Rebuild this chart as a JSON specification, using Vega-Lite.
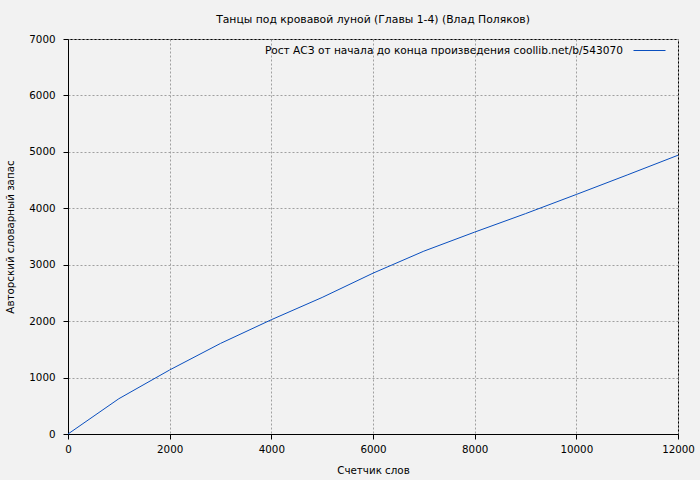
{
  "$schema": "https://vega.github.io/schema/vega-lite/v6.json",
  "width": 610,
  "height": 395,
  "autosize": {"type": "none"},
  "padding": {"left": 68, "top": 39, "right": 22, "bottom": 46},
  "background": "#f2f2f2",
  "title": {
    "text": "Танцы под кровавой луной (Главы 1-4) (Влад Поляков)",
    "font": "DejaVu Sans",
    "fontSize": 10.8,
    "fontWeight": "normal",
    "color": "#000000",
    "anchor": "middle",
    "offset": 9
  },
  "config": {
    "view": {"stroke": "#000000", "strokeWidth": 1},
    "axis": {
      "labelFont": "DejaVu Sans",
      "labelFontSize": 10.3,
      "labelColor": "#000000",
      "titleFont": "DejaVu Sans",
      "titleFontSize": 10.3,
      "titleFontWeight": "normal",
      "titleColor": "#000000",
      "domainColor": "#000000",
      "tickColor": "#000000",
      "tickSize": 5,
      "gridColor": "#a0a0a0",
      "gridDash": [2, 2],
      "gridWidth": 1,
      "gridOpacity": 1
    },
    "legend": {
      "labelFont": "DejaVu Sans",
      "labelFontSize": 10.6,
      "labelColor": "#000000"
    }
  },
  "data": {
    "values": [
      {"words": 0, "vocab": 0, "series": "Рост АСЗ от начала до конца произведения  coollib.net/b/543070"},
      {"words": 1000, "vocab": 625, "series": "Рост АСЗ от начала до конца произведения  coollib.net/b/543070"},
      {"words": 2000, "vocab": 1135, "series": "Рост АСЗ от начала до конца произведения  coollib.net/b/543070"},
      {"words": 3000, "vocab": 1605, "series": "Рост АСЗ от начала до конца произведения  coollib.net/b/543070"},
      {"words": 4000, "vocab": 2025, "series": "Рост АСЗ от начала до конца произведения  coollib.net/b/543070"},
      {"words": 5000, "vocab": 2420, "series": "Рост АСЗ от начала до конца произведения  coollib.net/b/543070"},
      {"words": 6000, "vocab": 2850, "series": "Рост АСЗ от начала до конца произведения  coollib.net/b/543070"},
      {"words": 7000, "vocab": 3240, "series": "Рост АСЗ от начала до конца произведения  coollib.net/b/543070"},
      {"words": 8000, "vocab": 3578, "series": "Рост АСЗ от начала до конца произведения  coollib.net/b/543070"},
      {"words": 9000, "vocab": 3905, "series": "Рост АСЗ от начала до конца произведения  coollib.net/b/543070"},
      {"words": 10000, "vocab": 4245, "series": "Рост АСЗ от начала до конца произведения  coollib.net/b/543070"},
      {"words": 11000, "vocab": 4590, "series": "Рост АСЗ от начала до конца произведения  coollib.net/b/543070"},
      {"words": 12000, "vocab": 4940, "series": "Рост АСЗ от начала до конца произведения  coollib.net/b/543070"}
    ]
  },
  "mark": {"type": "line", "strokeWidth": 1},
  "encoding": {
    "x": {
      "field": "words",
      "type": "quantitative",
      "scale": {"domain": [0, 12000], "nice": false, "zero": false},
      "axis": {"title": "Счетчик слов", "values": [0, 2000, 4000, 6000, 8000, 10000, 12000], "format": "d", "labelPadding": 5, "titlePadding": 11, "labelFlush": false}
    },
    "y": {
      "field": "vocab",
      "type": "quantitative",
      "scale": {"domain": [0, 7000], "nice": false},
      "axis": {"title": "Авторский словарный запас", "values": [0, 1000, 2000, 3000, 4000, 5000, 6000, 7000], "format": "d", "labelPadding": 8, "titlePadding": 13}
    },
    "color": {
      "field": "series",
      "type": "nominal",
      "scale": {"range": ["#0a4fbf"]},
      "legend": {
        "title": null,
        "orient": "none",
        "legendX": 565,
        "legendY": -5,
        "symbolType": "stroke",
        "symbolSize": 1024,
        "symbolStrokeWidth": 1,
        "labelAlign": "right",
        "labelOffset": -43,
        "labelLimit": 0,
        "padding": 0
      }
    }
  }
}
